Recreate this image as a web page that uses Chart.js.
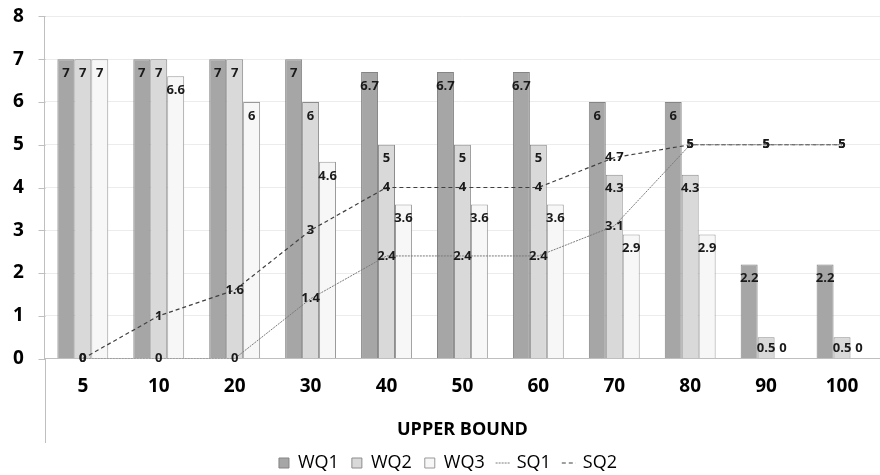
<!DOCTYPE html>
<html>
<head>
<meta charset="utf-8">
<script src="https://cdn.jsdelivr.net/npm/chart.js@4.4.1/dist/chart.umd.min.js"></script>
<style>
  html, body { margin: 0; padding: 0; background: #fff; }
  #wrap { width: 880px; height: 475px; }
</style>
</head>
<body>
<div id="wrap"><canvas id="chart"></canvas></div>
<script>
'use strict';

var upperBounds = ['5', '10', '20', '30', '40', '50', '60', '70', '80', '90', '100'];
var wq1 = [7, 7, 7, 7, 6.7, 6.7, 6.7, 6, 6, 2.2, 2.2];
var wq2 = [7, 7, 7, 6, 5, 5, 5, 4.3, 4.3, 0.5, 0.5];
var wq3 = [7, 6.6, 6, 4.6, 3.6, 3.6, 3.6, 2.9, 2.9, 0, 0];
var sq1 = [0, 0, 0, 1.4, 2.4, 2.4, 2.4, 3.1, 5, 5, 5];
var sq2 = [0, 1, 1.6, 3, 4, 4, 4, 4.7, 5, 5, 5];
var yTicks = [0, 1, 2, 3, 4, 5, 6, 7, 8];

var FONT = '"Open Sans", "DejaVu Sans", sans-serif';

// [ value labels ] drawn on top of bars and lines
var valueLabels = {
    id: 'valueLabels',
    afterDatasetsDraw: function(chart) {
        var ctx = chart.ctx;
        var base = chart.scales.y.getPixelForValue(0);
        ctx.save();
        ctx.font = 'bold 13px ' + FONT;
        ctx.fillStyle = '#1a1a1a';
        ctx.textAlign = 'center';
        ctx.textBaseline = 'middle';
        chart.data.datasets.forEach(function(ds, di) {
            var meta = chart.getDatasetMeta(di);
            meta.data.forEach(function(el, i) {
                var v = ds.data[i];
                var y;
                if (ds.type === 'line') {
                    y = el.y;
                } else {
                    y = Math.min(el.y + 14, base - 10);
                }
                ctx.fillText(String(v), el.x, y);
            });
        });
        ctx.restore();
    }
};

// [ axis extras ] short tick marks, Excel-style axis running past the labels,
// legend nudged a little to the right
var axisExtras = {
    id: 'axisExtras',
    afterLayout: function(chart) {
        chart.legend.left += 4;
        chart.legend.right += 4;
    },
    afterDraw: function(chart) {
        var ctx = chart.ctx;
        var a = chart.chartArea;
        var x = Math.round(a.left) + 0.5;
        ctx.save();
        ctx.strokeStyle = '#bfbfbf';
        ctx.lineWidth = 1;
        ctx.beginPath();
        ctx.moveTo(x, a.bottom);
        ctx.lineTo(x, 443);
        yTicks.forEach(function(t) {
            var y = Math.round(chart.scales.y.getPixelForValue(t)) + 0.5;
            ctx.moveTo(x - 7, y);
            ctx.lineTo(x, y);
        });
        ctx.stroke();
        ctx.restore();
    }
};

var ctx = document.getElementById('chart').getContext('2d');
var myChart = new Chart(ctx, {
    type: 'bar',
    data: {
        labels: upperBounds,
        datasets: [{
            label: 'WQ1',
            data: wq1,
            backgroundColor: '#a6a6a6',
            borderColor: '#858585',
            borderWidth: 1,
            pointStyle: 'rect',
            order: 1
        }, {
            label: 'WQ2',
            data: wq2,
            backgroundColor: '#d9d9d9',
            borderColor: '#8c8c8c',
            borderWidth: 1,
            pointStyle: 'rect',
            order: 1
        }, {
            label: 'WQ3',
            data: wq3,
            backgroundColor: '#f7f7f7',
            borderColor: '#999999',
            borderWidth: 1,
            pointStyle: 'rect',
            order: 1
        }, {
            type: 'line',
            label: 'SQ1',
            data: sq1,
            borderColor: '#7a7a7a',
            backgroundColor: '#7a7a7a',
            borderWidth: 1,
            borderDash: [2, 1],
            pointRadius: 0,
            pointStyle: 'line',
            tension: 0,
            order: 0
        }, {
            type: 'line',
            label: 'SQ2',
            data: sq2,
            borderColor: '#404040',
            backgroundColor: '#404040',
            borderWidth: 1.2,
            borderDash: [4, 3],
            pointRadius: 0,
            pointStyle: 'line',
            tension: 0,
            order: 0
        }]
    },
    options: {
        responsive: true,
        maintainAspectRatio: false,
        animation: false,
        layout: { padding: { left: 8, right: 0, top: 0, bottom: -7 } },
        datasets: {
            bar: { categoryPercentage: 0.67, barPercentage: 1.0 }
        },
        scales: {
            x: {
                grid: { display: false, drawTicks: false },
                border: { color: '#bfbfbf' },
                ticks: {
                    color: '#000',
                    padding: 17,
                    font: { family: FONT, size: 19, weight: 'bold' }
                },
                title: {
                    display: true,
                    text: 'UPPER BOUND',
                    color: '#000',
                    padding: { top: 4, bottom: 0 },
                    font: { family: FONT, size: 18, weight: 'bold' }
                }
            },
            y: {
                min: yTicks[0],
                max: yTicks[yTicks.length - 1],
                grid: { color: '#ececec', tickColor: 'rgba(0,0,0,0)', tickLength: 16 },
                border: { color: '#bfbfbf' },
                ticks: {
                    stepSize: 1,
                    color: '#000',
                    padding: 5,
                    font: { family: FONT, size: 19, weight: 'bold' }
                }
            }
        },
        plugins: {
            tooltip: { enabled: false },
            legend: {
                position: 'bottom',
                labels: {
                    usePointStyle: true,
                    boxWidth: 10,
                    boxHeight: 10,
                    padding: 13,
                    color: '#000',
                    font: { family: FONT, size: 18 },
                    sort: function(a, b) { return a.datasetIndex - b.datasetIndex; },
                    generateLabels: function(chart) {
                        var items = Chart.defaults.plugins.legend.labels.generateLabels(chart);
                        items.forEach(function(it) {
                            var ds = chart.data.datasets[it.datasetIndex];
                            if (ds.borderDash) it.lineDash = ds.borderDash;
                        });
                        return items;
                    }
                }
            }
        }
    },
    plugins: [valueLabels, axisExtras]
});
</script>
</body>
</html>
